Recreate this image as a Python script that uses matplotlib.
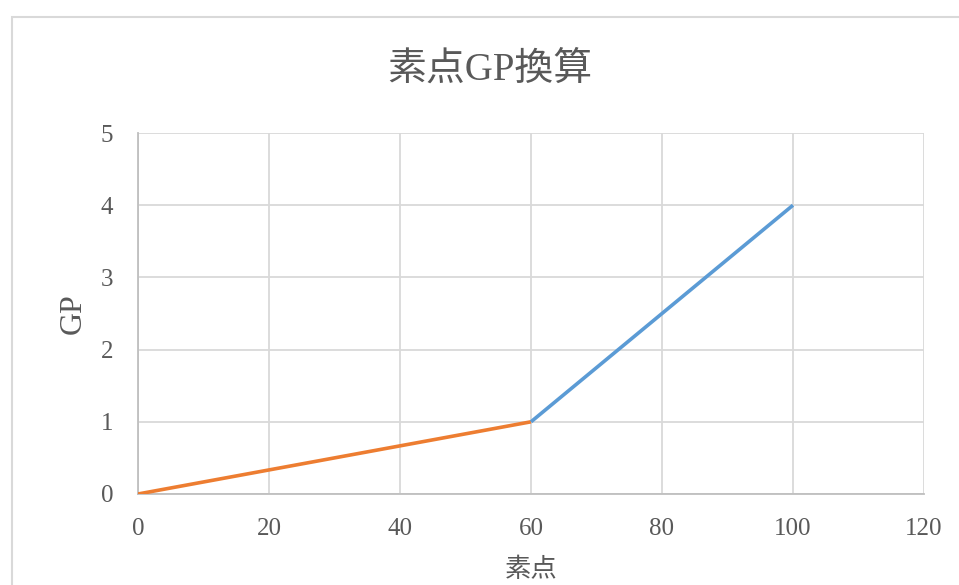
import matplotlib
matplotlib.use("Agg")
from matplotlib import pyplot as plt
from matplotlib.patches import Rectangle

plt.rcParams['font.family'] = ['Liberation Serif', 'Noto Sans CJK JP', 'DejaVu Sans']

# data
low_x = [0, 60]
low_y = [0, 1]
high_x = [60, 100]
high_y = [1, 4]
x_ticks = [0, 20, 40, 60, 80, 100, 120]
y_ticks = [0, 1, 2, 3, 4, 5]

text_color = '#595959'
grid_color = '#d9d9d9'

fig = plt.figure(figsize=(9.59, 5.85), dpi=100)
fig.patch.set_facecolor('white')

# chart border (Excel chart area)
fig.patches.append(Rectangle((12 / 959, -0.1), 1.2, 1.1 - 17 / 585,
                             transform=fig.transFigure, fill=False,
                             edgecolor=grid_color, linewidth=1.5))

ax = fig.add_axes([138 / 959, 1 - 494 / 585, (924 - 138) / 959, (494 - 133) / 585])

ax.plot(low_x, low_y, color='#ED7D31', linewidth=2.6, solid_capstyle='butt', zorder=3)
ax.plot(high_x, high_y, color='#5B9BD5', linewidth=2.6, solid_capstyle='butt', zorder=3)

ax.set_xlim(0, 120)
ax.set_ylim(0, 5)
ax.set_xticks(x_ticks)
ax.set_yticks(y_ticks)
ax.grid(True, color=grid_color, linewidth=1.3)
ax.set_axisbelow(True)

for side in ['top', 'right']:
    ax.spines[side].set_visible(False)
for side in ['left', 'bottom']:
    ax.spines[side].set_color('#bfbfbf')
    ax.spines[side].set_linewidth(1.3)

ax.tick_params(length=0, labelsize=18, labelcolor=text_color)
ax.tick_params(axis='x', pad=17)
ax.tick_params(axis='y', pad=18)

ax.set_xlabel('素点', fontsize=19, color=text_color, labelpad=13)
ax.set_ylabel('GP', fontsize=23, color=text_color, labelpad=9)

fig.text(490 / 959, 1 - 70 / 585, '素点GP換算', fontsize=28, color=text_color,
         ha='center', va='center')

fig.savefig('out.png', dpi=100)
